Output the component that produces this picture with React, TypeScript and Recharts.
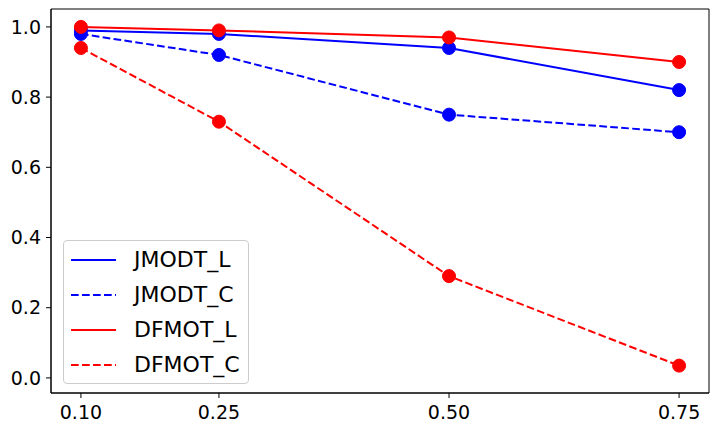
import React from 'react';
import {
  LineChart,
  Line,
  XAxis,
  YAxis,
  ReferenceArea,
} from 'recharts';

// threshold values on the x axis
const xValues = [0.1, 0.25, 0.5, 0.75];

const jmodtL = [0.99, 0.98, 0.94, 0.82];
const jmodtC = [0.98, 0.92, 0.75, 0.7];
const dfmotL = [1.0, 0.99, 0.97, 0.9];
const dfmotC = [0.94, 0.73, 0.29, 0.035];

const yTicks = [0, 0.2, 0.4, 0.6, 0.8, 1.0];

const X_DOMAIN: [number, number] = [0.0675, 0.7825];
const Y_DOMAIN: [number, number] = [-0.043, 1.051];

interface SeriesDef {
  key: string;
  name: string;
  values: number[];
  color: string;
  dashed: boolean;
}

const series: SeriesDef[] = [
  { key: 'jmodtL', name: 'JMODT_L', values: jmodtL, color: '#0000ff', dashed: false },
  { key: 'jmodtC', name: 'JMODT_C', values: jmodtC, color: '#0000ff', dashed: true },
  { key: 'dfmotL', name: 'DFMOT_L', values: dfmotL, color: '#ff0000', dashed: false },
  { key: 'dfmotC', name: 'DFMOT_C', values: dfmotC, color: '#ff0000', dashed: true },
];

const data = xValues.map((x, i) => {
  const row: Record<string, number> = { x };
  series.forEach((s) => {
    row[s.key] = s.values[i];
  });
  return row;
});

const DASH = '7.7 3.3';
const FONT = '"DejaVu Sans", sans-serif';

// legend drawn as an overlay so it doesn't steal space from the plot
const LegendBox: React.FC = () => (
  <div
    style={{
      position: 'absolute',
      left: 63,
      top: 240,
      boxSizing: 'border-box',
      width: 186,
      height: 144,
      paddingTop: 1,
      border: '1px solid #cccccc',
      borderRadius: 4,
      background: 'rgba(255,255,255,0.8)',
      fontFamily: FONT,
      fontSize: 22,
      color: '#000',
    }}
  >
    {series.map((s) => (
      <div key={s.key} style={{ position: 'relative', height: 35 }}>
        <svg width={45} height={4} style={{ position: 'absolute', left: 7, top: 16 }}>
          <line
            x1={0}
            y1={2}
            x2={45}
            y2={2}
            stroke={s.color}
            strokeWidth={2}
            strokeDasharray={s.dashed ? DASH : undefined}
          />
        </svg>
        <span style={{ position: 'absolute', left: 70, top: 0, lineHeight: '35px' }}>{s.name}</span>
      </div>
    ))}
  </div>
);

export default function App() {
  return (
    <div style={{ position: 'absolute', left: 0, top: 0, width: 719, height: 433, background: '#fff' }}>
      <LineChart
        width={719}
        height={433}
        data={data}
        margin={{ top: 9, right: 10, bottom: 10, left: 6 }}
        style={{ fontFamily: FONT }}
      >
        <XAxis
          dataKey="x"
          type="number"
          domain={X_DOMAIN}
          ticks={xValues}
          allowDataOverflow
          tickFormatter={(v: number) => v.toFixed(2)}
          height={30}
          tickSize={5}
          tickMargin={8}
          axisLine={{ stroke: '#000' }}
          tickLine={{ stroke: '#000' }}
          tick={{ fill: '#000', fontSize: 19 }}
        />
        <YAxis
          type="number"
          domain={Y_DOMAIN}
          ticks={yTicks}
          allowDataOverflow
          tickFormatter={(v: number) => v.toFixed(1)}
          width={45}
          tickSize={5}
          tickMargin={5}
          axisLine={{ stroke: '#000' }}
          tickLine={{ stroke: '#000' }}
          tick={{ fill: '#000', fontSize: 19 }}
        />
        <ReferenceArea
          x1={X_DOMAIN[0]}
          x2={X_DOMAIN[1]}
          y1={Y_DOMAIN[0]}
          y2={Y_DOMAIN[1]}
          fill="none"
          stroke="#000"
          strokeWidth={1}
          ifOverflow="visible"
        />
        {series.map((s) => (
          <Line
            key={s.key}
            dataKey={s.key}
            name={s.name}
            type="linear"
            stroke={s.color}
            strokeWidth={2}
            strokeDasharray={s.dashed ? DASH : undefined}
            dot={{ r: 6.5, fill: s.color, stroke: s.color, strokeWidth: 1, strokeDasharray: '' }}
            activeDot={false}
            isAnimationActive={false}
          />
        ))}
      </LineChart>
      <LegendBox />
    </div>
  );
}
